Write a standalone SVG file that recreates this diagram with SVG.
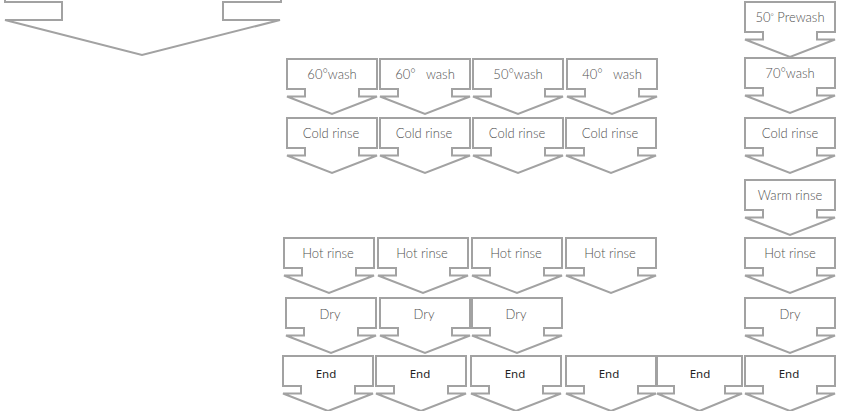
<svg xmlns="http://www.w3.org/2000/svg" xmlns:xlink="http://www.w3.org/1999/xlink" width="842" height="411" viewBox="0 0 842 411">
<style>
.s{fill:#ffffff;stroke:#a2a2a2;stroke-width:2;stroke-linejoin:miter}
.t{font-family:Lato,"Open Sans","Liberation Sans",sans-serif;font-weight:300;font-size:13px;fill:#505050;text-anchor:middle;white-space:pre}
.e{font-family:"Noto Sans","Open Sans","Liberation Sans",sans-serif;font-size:11.5px;fill:#1e1e1e;text-anchor:middle}
.d{font-size:8px}
</style>
<defs>
<path id="a" d="M0,0H90V30H72V37.5H90L45,55L0,37.5H18V30H0Z"/>
<path id="b" d="M0,0H85V30H68V37.5H85L42.5,55L0,37.5H17V30H0Z"/>
</defs>
<rect width="842" height="411" fill="#ffffff"/>
<g id="connectors"/>
<g id="big"><path class="s" d="M5,-40H281V2H223V20H280L142,55L5,20H62V2H5Z"/></g>

<g id="wash60a"><use href="#a" class="s" x="287" y="59"/><text class="t" x="332" y="78.5">60°wash</text></g>
<g id="wash60b"><use href="#a" class="s" x="380" y="59"/><text class="t" x="425" y="78.5">60°   wash</text></g>
<g id="wash50"><use href="#a" class="s" x="473" y="59"/><text class="t" x="518" y="78.5">50°wash</text></g>
<g id="wash40"><use href="#a" class="s" x="567" y="59"/><text class="t" x="612" y="78.5">40°   wash</text></g>

<g id="cold1"><use href="#a" class="s" x="287" y="118"/><text class="t" x="331" y="137.5">Cold rinse</text></g>
<g id="cold2"><use href="#a" class="s" x="380" y="118"/><text class="t" x="424" y="137.5">Cold rinse</text></g>
<g id="cold3"><use href="#a" class="s" x="473" y="118"/><text class="t" x="517" y="137.5">Cold rinse</text></g>
<g id="cold4"><use href="#a" class="s" x="566" y="118"/><text class="t" x="610" y="137.5">Cold rinse</text></g>

<g id="hot1"><use href="#a" class="s" x="284" y="238"/><text class="t" x="328" y="258">Hot rinse</text></g>
<g id="hot2"><use href="#a" class="s" x="378" y="238"/><text class="t" x="422" y="258">Hot rinse</text></g>
<g id="hot3"><use href="#a" class="s" x="472" y="238"/><text class="t" x="516" y="258">Hot rinse</text></g>
<g id="hot4"><use href="#a" class="s" x="566" y="238"/><text class="t" x="610" y="258">Hot rinse</text></g>

<g id="dry1"><use href="#a" class="s" x="286" y="298"/><text class="t" x="330" y="318.5">Dry</text></g>
<g id="dry2"><use href="#a" class="s" x="380" y="298"/><text class="t" x="424" y="318.5">Dry</text></g>
<g id="dry3"><use href="#a" class="s" x="472" y="298"/><text class="t" x="516" y="318.5">Dry</text></g>

<g id="end1"><use href="#a" class="s" x="283" y="356"/><text class="e" x="326" y="378">End</text></g>
<g id="end2"><use href="#a" class="s" x="376" y="356"/><text class="e" x="420" y="378">End</text></g>
<g id="end3"><use href="#a" class="s" x="471" y="356"/><text class="e" x="515" y="378">End</text></g>
<g id="end4"><use href="#a" class="s" x="566" y="356"/><text class="e" x="609" y="378">End</text></g>
<g id="end5"><use href="#b" class="s" x="657" y="356"/><text class="e" x="700" y="378">End</text></g>
<g id="end6"><use href="#a" class="s" x="745" y="356"/><text class="e" x="789" y="378">End</text></g>

<g id="prewash"><use href="#a" class="s" x="745" y="2"/><text class="t" x="790" y="21.5">50<tspan class="d" dy="-3">°</tspan><tspan dy="3"> Prewash</tspan></text></g>
<g id="wash70"><use href="#a" class="s" x="745" y="58"/><text class="t" x="790" y="77.5">70°wash</text></g>
<g id="cold5"><use href="#a" class="s" x="745" y="118"/><text class="t" x="790" y="137.5">Cold rinse</text></g>
<g id="warm"><use href="#a" class="s" x="745" y="180"/><text class="t" x="790" y="199.5">Warm rinse</text></g>
<g id="hot5"><use href="#a" class="s" x="745" y="238"/><text class="t" x="790" y="258">Hot rinse</text></g>
<g id="dry5"><use href="#a" class="s" x="745" y="298"/><text class="t" x="790" y="318.5">Dry</text></g>
</svg>
